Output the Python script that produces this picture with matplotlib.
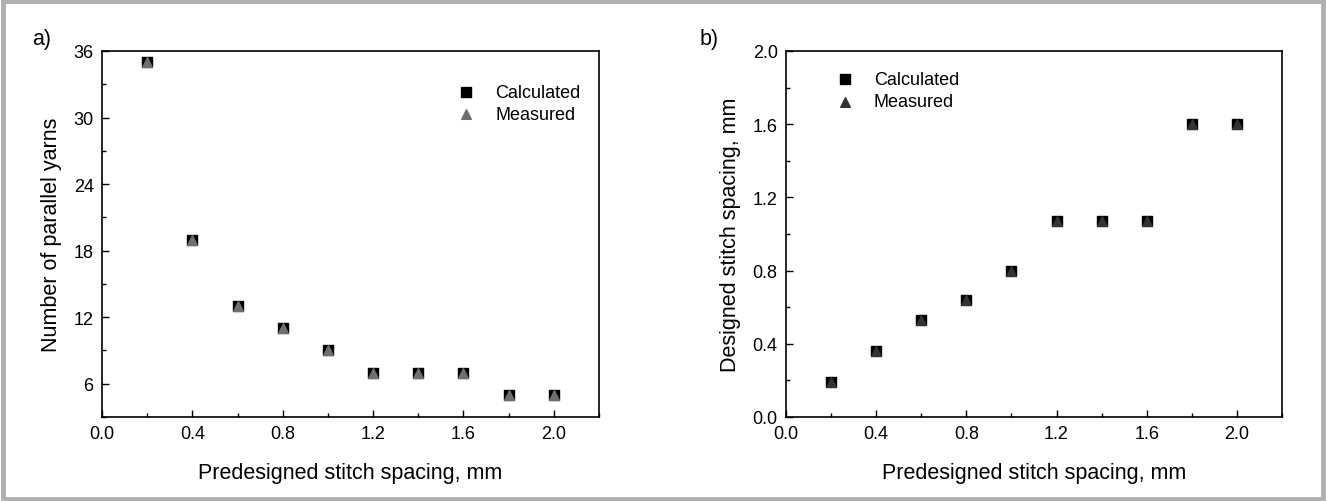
import matplotlib
matplotlib.use('Agg')
import matplotlib.pyplot as plt
from matplotlib.patches import Rectangle
from matplotlib.ticker import MultipleLocator

plt.rcParams['font.family'] = ['Liberation Sans', 'DejaVu Sans']

spacing = [0.2, 0.4, 0.6, 0.8, 1.0, 1.2, 1.4, 1.6, 1.8, 2.0]
yarns_calc = [35, 19, 13, 11, 9, 7, 7, 7, 5, 5]
yarns_meas = [35, 19, 13, 11, 9, 7, 7, 7, 5, 5]
designed_calc = [0.19, 0.36, 0.53, 0.64, 0.80, 1.07, 1.07, 1.07, 1.60, 1.60]
designed_meas = [0.19, 0.36, 0.53, 0.64, 0.80, 1.07, 1.07, 1.07, 1.60, 1.60]
xticks = [0.0, 0.4, 0.8, 1.2, 1.6, 2.0]


def style(ax):
    ax.set_xlim(0, 2.2)
    ax.set_xticks(xticks)
    ax.xaxis.set_minor_locator(MultipleLocator(0.2))
    ax.tick_params(which='both', direction='in', labelsize=13, width=1)
    ax.tick_params(which='major', length=5)
    ax.tick_params(which='minor', length=3)
    ax.tick_params(axis='both', pad=6)
    for s in ax.spines.values():
        s.set_linewidth(1.2)
    ax.set_xlabel('Predesigned stitch spacing, mm', fontsize=15.5, labelpad=14)


fig = plt.figure(figsize=(13.26, 5.02), dpi=100)
fig.patches.append(Rectangle((0.002, 0.004), 0.996, 0.992, transform=fig.transFigure,
                             fill=False, edgecolor='#b0b0b0', linewidth=3.5))

ax1 = fig.add_axes([102 / 1326, 1 - 418 / 502, 497 / 1326, 366 / 502])
ax1.scatter(spacing, yarns_calc, marker='s', s=42, color='black', label='Calculated', zorder=3)
ax1.scatter(spacing, yarns_meas, marker='^', s=48, color='#6f6f6f', label='Measured', zorder=4)
style(ax1)
ax1.set_ylim(3, 36)
ax1.set_yticks([6, 12, 18, 24, 30, 36])
ax1.yaxis.set_minor_locator(MultipleLocator(3))
ax1.set_ylabel('Number of parallel yarns', fontsize=15.5, labelpad=8)
ax1.legend(loc='upper right', bbox_to_anchor=(0.995, 0.955), frameon=False, fontsize=13,
           handletextpad=0.6, labelspacing=0.3, markerscale=1.0)
fig.text(32 / 1326, 1 - 45 / 502, 'a)', fontsize=15.5)

ax2 = fig.add_axes([786 / 1326, 1 - 418 / 502, 496 / 1326, 366 / 502])
ax2.scatter(spacing, designed_calc, marker='s', s=42, color='black', label='Calculated', zorder=3)
ax2.scatter(spacing, designed_meas, marker='^', s=48, color='#333333', label='Measured', zorder=4)
style(ax2)
ax2.set_ylim(0, 2.0)
ax2.set_yticks([0.0, 0.4, 0.8, 1.2, 1.6, 2.0])
ax2.yaxis.set_minor_locator(MultipleLocator(0.2))
ax2.set_ylabel('Designed stitch spacing, mm', fontsize=15.5, labelpad=8)
ax2.legend(loc='upper left', bbox_to_anchor=(0.05, 0.99), frameon=False, fontsize=13,
           handletextpad=0.6, labelspacing=0.3, markerscale=1.0)
fig.text(700 / 1326, 1 - 45 / 502, 'b)', fontsize=15.5)

fig.savefig('out.png', dpi=100)
